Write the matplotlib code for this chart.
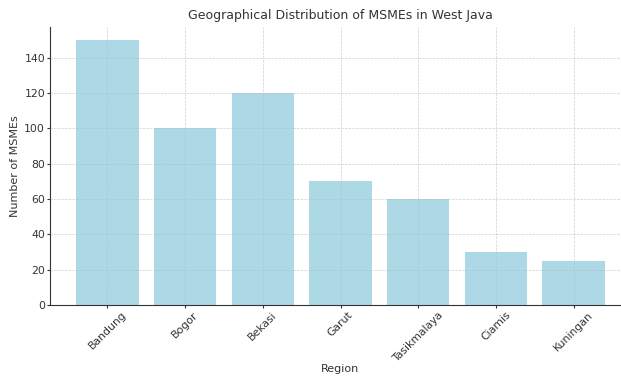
import matplotlib
matplotlib.use("Agg")
import matplotlib.pyplot as plt

regions = ["Bandung", "Bogor", "Bekasi", "Garut", "Tasikmalaya", "Ciamis", "Kuningan"]
msme_counts = [150, 100, 120, 70, 60, 30, 25]

plt.rcParams['font.family'] = ['DejaVu Sans']
plt.rcParams['font.size'] = 8
plt.rcParams['text.color'] = '#333333'
plt.rcParams['axes.labelcolor'] = '#333333'
plt.rcParams['xtick.color'] = '#333333'
plt.rcParams['ytick.color'] = '#333333'
plt.rcParams['xtick.labelsize'] = 7.8
plt.rcParams['ytick.labelsize'] = 7.8
plt.rcParams['xtick.major.size'] = 2
plt.rcParams['ytick.major.size'] = 2
plt.rcParams['xtick.major.pad'] = 1.5
plt.rcParams['ytick.major.pad'] = 1.5

fig = plt.figure(figsize=(6.21, 3.76), dpi=100)
ax = fig.add_axes([50 / 621, 1 - 305 / 376, 581 / 621, 278 / 376])

ax.bar(regions, msme_counts, color='lightblue', width=0.8)

ax.set_title('Geographical Distribution of MSMEs in West Java', fontsize=9)
ax.set_xlabel('Region')
ax.xaxis.set_label_coords(0.5, -(364 - 305) / 278)
ax.set_ylabel('Number of MSMEs', labelpad=3)
plt.setp(ax.get_xticklabels(), rotation=45)

ax.grid(True, linestyle='--', linewidth=0.5, color='#bbbbbb', alpha=0.7)
ax.set_axisbelow(False)

for side in ['top', 'right']:
    ax.spines[side].set_visible(False)
ax.spines['left'].set_color('#333333')
ax.spines['bottom'].set_color('#333333')

fig.savefig('out.png', dpi=100)
